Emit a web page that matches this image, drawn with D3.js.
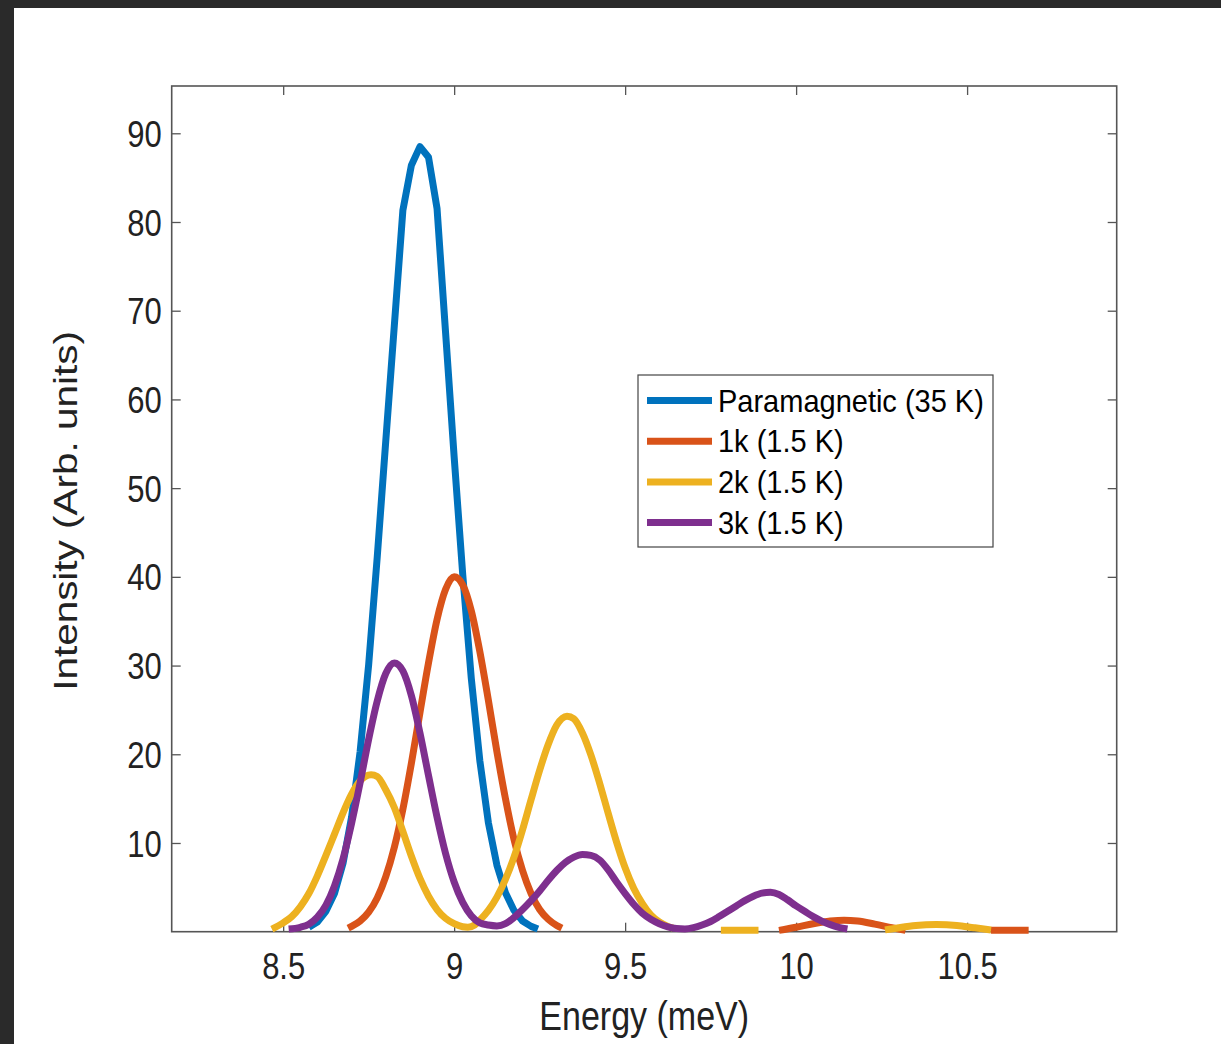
<!DOCTYPE html>
<html>
<head>
<meta charset="utf-8">
<script src="https://cdn.jsdelivr.net/npm/d3@7"></script>
<style>
  html, body { margin: 0; padding: 0; background: #fff; }
  svg { display: block; }
  text { font-family: "Liberation Sans", Arial, Helvetica, sans-serif; }
</style>
</head>
<body>
<svg id="chart" width="1221" height="1044"></svg>
<script>
// ---- data -------------------------------------------------------------
const seriesNames = ["Paramagnetic (35 K)", "1k (1.5 K)", "2k (1.5 K)", "3k (1.5 K)"];
const seriesColors = ["#0072BD", "#D95319", "#EDB120", "#7E2F8E"];

const xTickValues = [8.5, 9, 9.5, 10, 10.5];
const xTickLabels = ["8.5", "9", "9.5", "10", "10.5"];
const yTickValues = [10, 20, 30, 40, 50, 60, 70, 80, 90];
const yTickLabels = ["10", "20", "30", "40", "50", "60", "70", "80", "90"];

// Paramagnetic (35 K)
const paraEnergy = [8.575, 8.600, 8.625, 8.650, 8.675, 8.700, 8.725, 8.750, 8.775, 8.800,
  8.825, 8.850, 8.875, 8.900, 8.925, 8.950, 8.975, 9.000, 9.025, 9.050,
  9.075, 9.100, 9.125, 9.150, 9.175, 9.200, 9.225, 9.245];
const paraIntensity = [0.5, 1.1, 2.3, 4.3, 7.7, 12.9, 20.3, 30.1, 42.2, 55.3,
  68.3, 81.3, 86.4, 88.5, 87.3, 81.5, 67.5, 53.5, 40.3, 28.6,
  19.3, 12.3, 7.5, 4.4, 2.4, 1.2, 0.6, 0.3];

// 1k (1.5 K) — null marks a break in the trace
const k1Energy = [8.690, 8.700, 8.725, 8.750, 8.775, 8.800, 8.825, 8.850, 8.875, 8.900,
  8.925, 8.950, 8.975, 9.000, 9.025, 9.050, 9.075, 9.100, 9.125, 9.150,
  9.175, 9.200, 9.225, 9.250, 9.275, 9.300, 9.315,
  9.600,
  9.950, 10.000, 10.050, 10.100, 10.140, 10.180, 10.230, 10.280, 10.320,
  10.450,
  10.570, 10.680];
const k1Intensity = [0.4, 0.6, 1.2, 2.2, 3.8, 6.2, 9.5, 13.8, 19.0, 24.7,
  30.3, 35.2, 38.6, 40.0, 39.1, 36.2, 31.6, 26.1, 20.3, 15.0,
  10.4, 6.9, 4.3, 2.5, 1.4, 0.7, 0.4,
  null,
  0.15, 0.5, 0.9, 1.2, 1.3, 1.2, 0.85, 0.45, 0.15,
  null,
  0.15, 0.15];

// 2k (1.5 K)
const k2Energy = [8.467, 8.500, 8.525, 8.550, 8.575, 8.600, 8.625, 8.650, 8.675, 8.700,
  8.725, 8.757, 8.775, 8.800, 8.825, 8.850, 8.875, 8.900, 8.925, 8.950,
  8.975, 9.000, 9.025, 9.040, 9.060, 9.075, 9.100, 9.125, 9.150, 9.175,
  9.200, 9.225, 9.250, 9.275, 9.300, 9.330, 9.350, 9.375, 9.400, 9.425,
  9.450, 9.475, 9.500, 9.525, 9.550, 9.575, 9.600, 9.625, 9.640,
  9.700,
  9.780, 9.890,
  10.000,
  10.260, 10.300, 10.350, 10.410, 10.470, 10.520, 10.570];
const k2Intensity = [0.3, 1.0, 1.7, 2.8, 4.3, 6.3, 8.6, 11.0, 13.4, 15.5,
  17.0, 17.7, 17.5, 16.0, 14.0, 11.3, 8.5, 6.0, 4.0, 2.5,
  1.5, 0.9, 0.55, 0.5, 0.75, 1.3, 2.4, 3.9, 5.9, 8.4,
  11.5, 14.9, 18.2, 21.1, 23.3, 24.3, 24.0, 22.4, 19.9, 16.8,
  13.4, 10.1, 7.2, 4.9, 3.2, 1.9, 1.1, 0.6, 0.4,
  null,
  0.15, 0.15,
  null,
  0.2, 0.45, 0.7, 0.8, 0.7, 0.45, 0.2];

// 3k (1.5 K)
const k3Energy = [8.516, 8.550, 8.575, 8.600, 8.625, 8.650, 8.675, 8.700, 8.725, 8.750,
  8.775, 8.800, 8.825, 8.850, 8.875, 8.900, 8.925, 8.950, 8.975, 9.000,
  9.025, 9.050, 9.075, 9.100, 9.125, 9.150, 9.175, 9.200, 9.225, 9.250,
  9.275, 9.300, 9.325, 9.350, 9.375, 9.400, 9.425, 9.450, 9.475, 9.500,
  9.525, 9.550, 9.575, 9.600, 9.625, 9.650, 9.675, 9.700, 9.725, 9.750,
  9.775, 9.800, 9.825, 9.850, 9.875, 9.900, 9.925, 9.950, 9.975, 10.000,
  10.025, 10.050, 10.075, 10.100, 10.125, 10.150];
const k3Intensity = [0.3, 0.5, 0.85, 1.65, 3.0, 5.15, 8.2, 12.2, 16.8, 21.7,
  26.0, 29.1, 30.3, 29.4, 26.6, 22.4, 17.6, 12.9, 8.8, 5.6,
  3.3, 1.8, 1.0, 0.75, 0.65, 0.9, 1.6, 2.5, 3.5, 4.6,
  5.8, 6.9, 7.8, 8.4, 8.7, 8.6, 8.1, 7.0, 5.6, 4.3,
  3.1, 2.1, 1.4, 0.9, 0.55, 0.35, 0.3, 0.45, 0.75, 1.15,
  1.7, 2.3, 2.9, 3.5, 4.0, 4.35, 4.45, 4.2, 3.6, 2.9,
  2.3, 1.7, 1.2, 0.8, 0.5, 0.3];

const xDomain = [8.174, 10.9375];
const yDomain = [0, 95.33];

// ---- layout -------------------------------------------------------------
const W = 1221, H = 1044;
const plot = { left: 171.7, top: 86, right: 1116.7, bottom: 931.7 };
const textStretch = 1.17;   // glyphs are drawn slightly taller than wide

const svg = d3.select("#chart");

// dark outer frame around the white figure
svg.append("rect").attr("width", W).attr("height", H).attr("fill", "#2a2a2a");
svg.append("rect").attr("x", 14).attr("y", 8).attr("width", W - 14).attr("height", H - 8).attr("fill", "#fff");

const x = d3.scaleLinear().domain(xDomain).range([plot.left, plot.right]);
const y = d3.scaleLinear().domain(yDomain).range([plot.bottom, plot.top]);

const axisColor = "#555";
const tickLen = 9;

function styleAxis(g) {
  g.select(".domain").remove();
  g.selectAll(".tick line").attr("stroke", axisColor).attr("stroke-width", 1.3);
  g.selectAll(".tick text").attr("fill", "#222").style("font-size", "31px");
}

// bottom axis with labels
svg.append("g")
  .attr("transform", `translate(0,${plot.bottom})`)
  .call(d3.axisBottom(x).tickValues(xTickValues)
    .tickFormat((d, i) => xTickLabels[i]).tickSizeInner(-tickLen).tickSizeOuter(0).tickPadding(0))
  .call(styleAxis)
  .call(g => g.selectAll(".tick text")
    .attr("y", null).attr("dy", null)
    .attr("transform", `translate(0,47) scale(1,${textStretch})`));

// top axis (ticks only)
svg.append("g")
  .attr("transform", `translate(0,${plot.top})`)
  .call(d3.axisTop(x).tickValues(xTickValues).tickFormat("").tickSizeInner(-tickLen).tickSizeOuter(0))
  .call(styleAxis);

// left axis with labels
svg.append("g")
  .attr("transform", `translate(${plot.left},0)`)
  .call(d3.axisLeft(y).tickValues(yTickValues)
    .tickFormat((d, i) => yTickLabels[i]).tickSizeInner(-tickLen).tickSizeOuter(0).tickPadding(10))
  .call(styleAxis)
  .call(g => g.selectAll(".tick text")
    .attr("x", null).attr("dy", "0.36em")
    .attr("transform", `translate(-10,0) scale(1,${textStretch})`));

// right axis (ticks only)
svg.append("g")
  .attr("transform", `translate(${plot.right},0)`)
  .call(d3.axisRight(y).tickValues(yTickValues).tickFormat("").tickSizeInner(-tickLen).tickSizeOuter(0))
  .call(styleAxis);

// axes box
svg.append("rect")
  .attr("x", plot.left).attr("y", plot.top)
  .attr("width", plot.right - plot.left).attr("height", plot.bottom - plot.top)
  .attr("fill", "none").attr("stroke", axisColor).attr("stroke-width", 1.6);

// axis titles
svg.append("text")
  .attr("transform", `translate(${(plot.left + plot.right) / 2},1030) scale(1,1.2)`)
  .attr("text-anchor", "middle").attr("fill", "#222")
  .style("font-size", "34px")
  .text("Energy (meV)");

svg.append("text")
  .attr("transform", `translate(77,511) scale(1,1.19) rotate(-90)`)
  .attr("text-anchor", "middle").attr("fill", "#222")
  .style("font-size", "34px")
  .text("Intensity (Arb. units)");

// ---- traces -------------------------------------------------------------
svg.append("clipPath").attr("id", "plot-clip")
  .append("rect")
  .attr("x", plot.left).attr("y", plot.top)
  .attr("width", plot.right - plot.left).attr("height", plot.bottom - plot.top + 2.5);

const series = [
  { energy: paraEnergy, intensity: paraIntensity, curve: d3.curveLinear },
  { energy: k1Energy, intensity: k1Intensity, curve: d3.curveMonotoneX },
  { energy: k2Energy, intensity: k2Intensity, curve: d3.curveMonotoneX },
  { energy: k3Energy, intensity: k3Intensity, curve: d3.curveMonotoneX }
];

const traces = svg.append("g").attr("clip-path", "url(#plot-clip)");

series.forEach((s, i) => {
  const pts = s.energy.map((e, j) => [e, s.intensity[j]]);
  const line = d3.line()
    .defined(d => d[1] !== null)
    .x(d => x(d[0]))
    .y(d => y(d[1]))
    .curve(s.curve);
  traces.append("path")
    .datum(pts)
    .attr("d", line)
    .attr("fill", "none")
    .attr("stroke", seriesColors[i])
    .attr("stroke-width", 7)
    .attr("stroke-linejoin", "round")
    .attr("stroke-linecap", "butt");
});

// ---- legend -------------------------------------------------------------
const legend = svg.append("g");
legend.append("rect")
  .attr("x", 638).attr("y", 375).attr("width", 355).attr("height", 172)
  .attr("fill", "#fff").attr("stroke", "#444").attr("stroke-width", 1.2);

seriesNames.forEach((name, i) => {
  const ry = 400.5 + i * 40.7;
  legend.append("line")
    .attr("x1", 647).attr("x2", 712).attr("y1", ry).attr("y2", ry)
    .attr("stroke", seriesColors[i]).attr("stroke-width", 7);
  legend.append("text")
    .attr("transform", `translate(718,${ry}) scale(1,1.08)`)
    .attr("dy", "0.36em")
    .attr("fill", "#000")
    .style("font-size", "29px")
    .text(name);
});
</script>
</body>
</html>
